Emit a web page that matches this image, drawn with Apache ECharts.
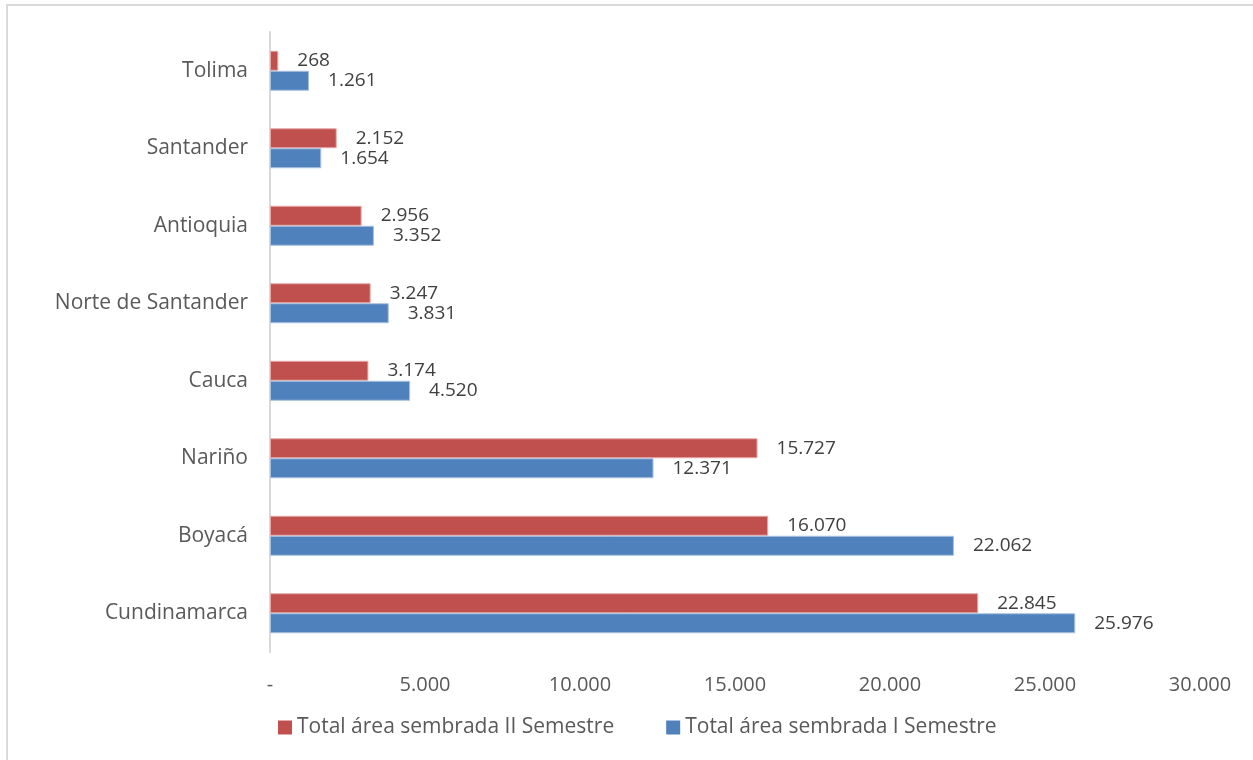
<!DOCTYPE html>
<html>
<head>
<meta charset="utf-8">
<script src="https://cdn.jsdelivr.net/npm/echarts@6/dist/echarts.min.js"></script>
<style>
  html, body { margin: 0; padding: 0; background: #fff; }
  #chart { width: 1253px; height: 760px; }
</style>
</head>
<body>
<div id="chart"></div>
<script>
// Departments, bottom to top
const departamentos = ['Cundinamarca', 'Boyacá', 'Nariño', 'Cauca', 'Norte de Santander', 'Antioquia', 'Santander', 'Tolima'];
// Planted area (ha) per semester
const semestreII = [22845, 16070, 15727, 3174, 3247, 2956, 2152, 268];
const semestreI = [25976, 22062, 12371, 4520, 3831, 3352, 1654, 1261];
const nombreII = 'Total área sembrada II Semestre';
const nombreI = 'Total área sembrada I Semestre';

function miles(v) {
  if (v === 0) return '-';
  return String(Math.round(v)).replace(/\B(?=(\d{3})+(?!\d))/g, '.');
}

const fuente = 'Open Sans, Noto Sans, sans-serif';
const etiqueta = {
  show: true,
  position: 'right',
  distance: 19,
  color: '#404040',
  fontSize: 19,
  fontFamily: fuente,
  formatter: p => miles(p.value)
};

const chart = echarts.init(document.getElementById('chart'));
chart.setOption({
  backgroundColor: '#fff',
  animation: false,
  graphic: [{
    type: 'rect',
    shape: { x: 7, y: 5, width: 1260, height: 800 },
    style: { fill: 'none', stroke: '#d9d9d9', lineWidth: 2 },
    silent: true
  }],
  grid: { left: 270, right: 53, top: 32, bottom: 108, containLabel: false },
  legend: {
    bottom: 22,
    left: 278,
    padding: 0,
    itemWidth: 14,
    itemHeight: 14,
    itemGap: 52,
    icon: 'rect',
    itemStyle: { borderWidth: 0 },
    textStyle: { color: '#595959', fontSize: 21, fontFamily: fuente },
    data: [nombreII, nombreI]
  },
  xAxis: {
    type: 'value',
    min: 0,
    max: 30000,
    interval: 5000,
    splitLine: { show: false },
    axisLine: { show: false },
    axisTick: { show: false },
    axisLabel: {
      color: '#595959',
      fontSize: 20,
      fontFamily: fuente,
      margin: 23,
      formatter: miles
    }
  },
  yAxis: {
    type: 'category',
    data: departamentos,
    axisLine: { show: true, lineStyle: { color: '#d9d9d9', width: 2 } },
    axisTick: { show: false },
    axisLabel: { color: '#595959', fontSize: 21, fontFamily: fuente, margin: 22 }
  },
  series: [
    {
      name: nombreII,
      type: 'bar',
      data: semestreII,
      barWidth: 20,
      barGap: '0%',
      itemStyle: { color: '#C0504D', borderColor: '#e5a9a7', borderWidth: 1 },
      label: etiqueta
    },
    {
      name: nombreI,
      type: 'bar',
      data: semestreI,
      barWidth: 20,
      barGap: '0%',
      itemStyle: { color: '#4F81BD', borderColor: '#a8c0de', borderWidth: 1 },
      label: etiqueta
    }
  ]
});
</script>
</body>
</html>
